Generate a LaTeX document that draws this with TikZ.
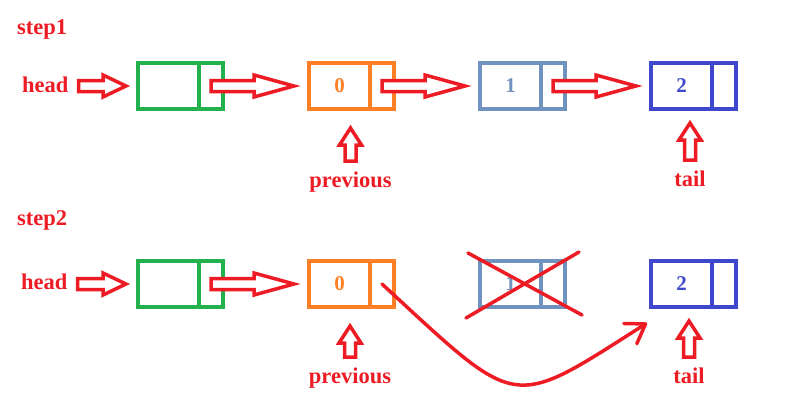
\documentclass[tikz,border=0pt]{standalone}
\usepackage{fontspec}
\setmainfont{Liberation Serif}
\usetikzlibrary{arrows.meta,calc,positioning}
\definecolor{nodegreen}{HTML}{22B14C}
\definecolor{nodeorange}{HTML}{FF7F27}
\definecolor{nodegrey}{HTML}{7092BE}
\definecolor{nodeblue}{HTML}{3F48CC}
\definecolor{markred}{HTML}{ED1C24}
\tikzset{
    %Define style for the value field of a list node
    valbox/.style={
           rectangle,
           draw=#1, line width=4pt,
           outer sep=0pt,
           minimum width=61pt,
           minimum height=46pt,
           text=#1,
           font=\bfseries\fontsize{21}{25}\selectfont},
    %Define style for the pointer field of a list node
    ptrbox/.style={
           rectangle,
           draw=#1, line width=4pt,
           outer sep=0pt,
           minimum width=24pt,
           minimum height=46pt},
    %Define style for the red labels
    lbl/.style={
           text=markred, inner sep=0pt,
           font=\bfseries\fontsize{22.5}{27}\selectfont},
    % Define style for the fat outlined arrows
    hollow/.style={
           draw=markred, fill=white,
           line width=3.5pt, line join=miter},
    % Define style for the new link and the cross
    redline/.style={
           draw=markred, line width=3.5pt, line cap=round}
}
% fat outlined arrow: [head length]{start}{tip}
\newcommand{\fatarrow}[3][40pt]{%
  \coordinate (fs) at #2;
  \coordinate (fe) at #3;
  \coordinate (fb) at ($(fe)!#1!(fs)$);
  \draw[hollow] ($(fs)!5.5pt!90:(fe)$) -- ($(fb)!5.5pt!-90:(fs)$)
    -- ($(fb)!11pt!-90:(fs)$) -- (fe) -- ($(fb)!11pt!90:(fs)$)
    -- ($(fb)!5.5pt!90:(fs)$) -- ($(fs)!5.5pt!-90:(fe)$) -- cycle;
}
\begin{document}
\begin{tikzpicture}[x=1pt,y=-1pt,node distance=86pt]
\useasboundingbox (0,0) rectangle (800,400);
 %step1 nodes
\node[lbl, anchor=base west](st1) at (17,34){step1};
\node[valbox=nodegreen](v0) at (168.5,86){};
\node[ptrbox=nodegreen, right=0pt of v0](p0){};
\node[valbox=nodeorange, right=of p0](v1){0};
\node[ptrbox=nodeorange, right=0pt of v1](p1){};
\node[valbox=nodegrey, right=of p1](v2){1};
\node[ptrbox=nodegrey, right=0pt of v2](p2){};
\node[valbox=nodeblue, right=of p2](v3){2};
\node[ptrbox=nodeblue, right=0pt of v3](p3){};
\node[lbl, anchor=base west](hd1) at (22,92){head};
\node[lbl, anchor=base](prev1) at (350.5,187){previous};
\node[lbl, anchor=base](tl1) at (690,186){tail};
 %step1 arrows
\fatarrow[23pt]{($(hd1.east |- v0.west)+(10,0)$)}{($(v0.west)+(-12,0)$)}
\fatarrow{(p0.center)}{($(v1.west)+(-15,0)$)}
\fatarrow{(p1.center)}{($(v2.west)+(-15,0)$)}
\fatarrow{(p2.center)}{($(v3.west)+(-15,0)$)}
\fatarrow[17pt]{($(prev1.north)+(0,-10)$)}{($(prev1.north |- v1.south)+(0,19)$)}
\fatarrow[17pt]{($(tl1.north)+(0,-10)$)}{($(tl1.north |- v3.south)+(0,14)$)}
 %step2 nodes
\node[lbl, anchor=base west](st2) at (17,225){step2};
\node[valbox=nodegreen](v0b) at (168.5,284){};
\node[ptrbox=nodegreen, right=0pt of v0b](p0b){};
\node[valbox=nodeorange, right=of p0b](v1b){0};
\node[ptrbox=nodeorange, right=0pt of v1b](p1b){};
\node[valbox=nodegrey, right=of p1b](v2b){1};
\node[ptrbox=nodegrey, right=0pt of v2b](p2b){};
\node[valbox=nodeblue, right=of p2b](v3b){2};
\node[ptrbox=nodeblue, right=0pt of v3b](p3b){};
\node[lbl, anchor=base west](hd2) at (21,289){head};
\node[lbl, anchor=base](prev2) at (350,383){previous};
\node[lbl, anchor=base](tl2) at (689,383){tail};
 %step2 arrows
\fatarrow[23pt]{($(hd2.east |- v0b.west)+(10,0)$)}{($(v0b.west)+(-12,0)$)}
\fatarrow{(p0b.center)}{($(v1b.west)+(-15,0)$)}
\fatarrow[17pt]{($(prev2.north)+(0,-10)$)}{($(prev2.north |- v1b.south)+(0,19)$)}
\fatarrow[17pt]{($(tl2.north)+(0,-10)$)}{($(tl2.north |- v3b.south)+(0,14)$)}
 %removed node and new link
\draw[redline] ($(v2b.north west)+(-12,-8)$) -- ($(p2b.south east)+(17,8)$);
\draw[redline] ($(v2b.south west)+(-14,11)$) -- ($(p2b.north east)+(14,-9)$);
\coordinate (newtip) at ($(v3b.south west)+(-4,16)$);
\draw[redline, -{Straight Barb[length=18pt,width=24pt,round]}] (p1b.center)
    .. controls ($(p1b.center)+(138,127)$) and ($(newtip)+(-138,88)$) .. (newtip);
\end{tikzpicture}
\end{document}
